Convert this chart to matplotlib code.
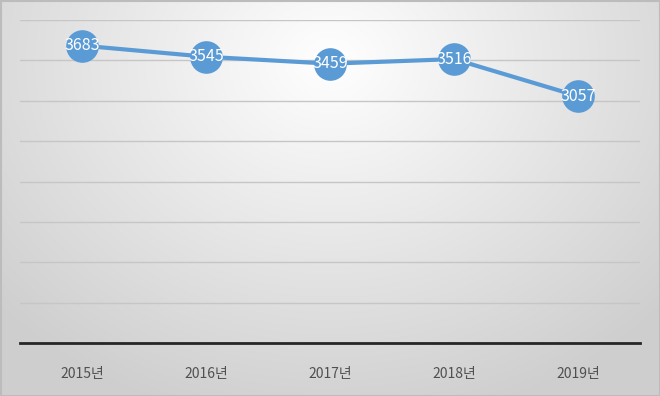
import numpy as np
import matplotlib
matplotlib.use("Agg")
import matplotlib.pyplot as plt

plt.rcParams['font.family'] = ['Noto Sans CJK KR', 'DejaVu Sans']

years = ['2015년', '2016년', '2017년', '2018년', '2019년']
values = [3683, 3545, 3459, 3516, 3057]

fig = plt.figure(figsize=(6.6, 3.96), dpi=100)

# radial gradient background
bg = fig.add_axes([0, 0, 1, 1], zorder=0)
h, w = 396, 660
yy, xx = np.mgrid[0:h, 0:w]
r = np.sqrt(((xx - 330) / 400.0) ** 2 + ((yy - 60) / 330.0) ** 2)
g = np.clip(1.0 - 0.17 * r, 0.81, 1.0)
img = np.dstack([g, g, g])
bg.imshow(img, aspect='auto', extent=[0, w, h, 0])
bg.set_xlim(0, w)
bg.set_ylim(h, 0)
bg.plot([0.5, w - 0.5, w - 0.5, 0.5, 0.5], [0.5, 0.5, h - 0.5, h - 0.5, 0.5],
        color='#bcbcbc', lw=1.5)
bg.axis('off')

ax = fig.add_axes([20 / 660, 53 / 396, 620 / 660, 323 / 396], zorder=1)
ax.patch.set_alpha(0)
x = np.arange(len(years))
ax.plot(x, values, color='#5b9bd5', lw=3, marker='o', markersize=23.5,
        markeredgewidth=0, solid_capstyle='round', zorder=3)
for xi, v in zip(x, values):
    ax.text(xi, v, str(v), color='white', fontsize=11.5, fontweight='medium',
            ha='center', va='center', zorder=4)

ax.set_xlim(-0.5, len(years) - 0.5)
ax.set_ylim(0, 4000)
ax.set_yticks(np.arange(0, 4001, 500))
ax.grid(axis='y', color='#c6c6c6', lw=1)
ax.set_axisbelow(True)
ax.set_yticklabels([])
ax.tick_params(axis='y', length=0)
ax.set_xticks(x)
ax.set_xticklabels(years, color='#505050', fontsize=10)
ax.tick_params(axis='x', length=0, pad=17)
for s in ['top', 'left', 'right']:
    ax.spines[s].set_visible(False)
ax.spines['bottom'].set_color('#262626')
ax.spines['bottom'].set_linewidth(2)

fig.savefig('out.png', dpi=100)
